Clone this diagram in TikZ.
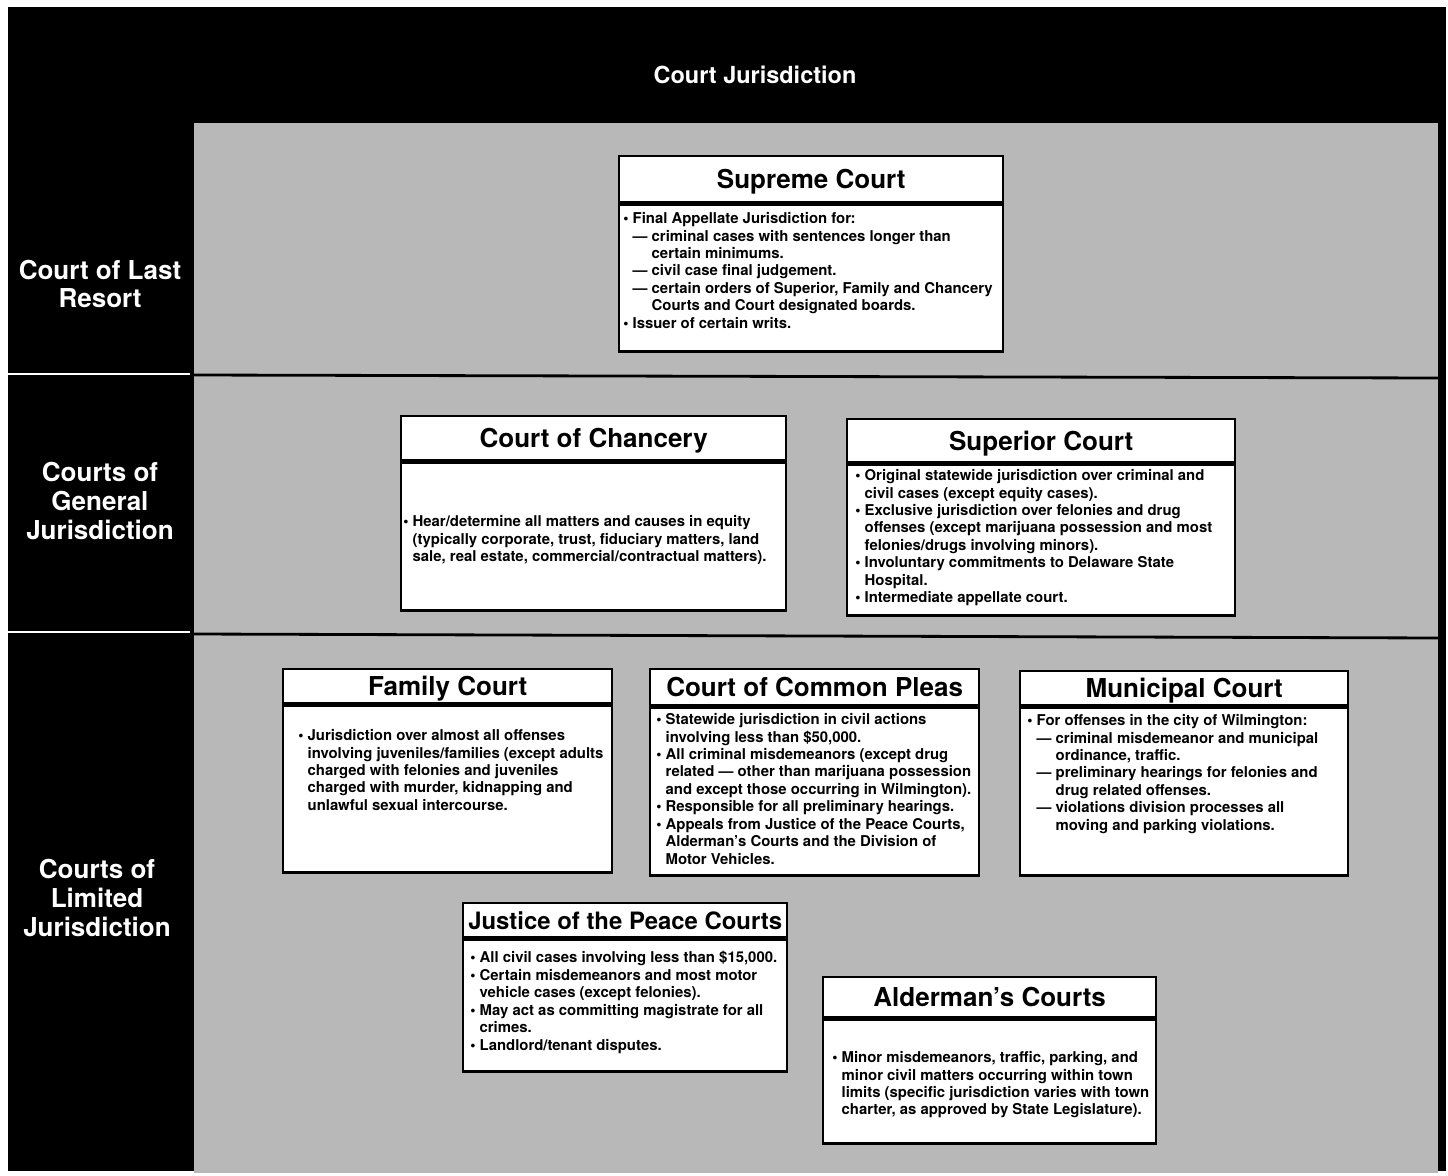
\documentclass[tikz,border=0pt]{standalone}
\usepackage{fontspec}
\setmainfont{TeX Gyre Heros}
\usetikzlibrary{calc}
\newcommand{\bul}{\textbullet\ }
\newcommand{\ind}{\phantom{\textbullet\ }}
\newcommand{\dsh}{---\ }
\newcommand{\dind}{\phantom{---\ }}
\definecolor{stipple}{gray}{0.72}
\tikzset{
  lbl/.style={text=white,font=\bfseries\fontsize{18.5}{20.5}\selectfont,align=center},
  hd/.style={draw,fill=white,line width=1.6pt,font=\bfseries\fontsize{18.5}{20}\selectfont,inner sep=0pt,text depth=0pt,anchor=north west},
  bd/.style={draw,fill=white,line width=1.6pt,inner sep=0pt,anchor=north},
  txt/.style={font=\bfseries\fontsize{10.6}{12.4}\selectfont,align=left,inner sep=0pt,anchor=north west}
}

\begin{document}
\begin{tikzpicture}[x=0.025cm,y=-0.025cm]
  \useasboundingbox (0,0) rectangle (1448,1176);
  \fill[black] (8,7) rectangle (1446,1171);
  \fill[stipple] (194,123) rectangle (1438,1173);
  \draw[line width=2pt] (194,375) -- (1438,378);
  \draw[line width=2pt] (194,634) -- (1438,638);
  \draw[white,line width=1.5pt] (8,374) -- (190,374);
  \draw[white,line width=1.5pt] (8,632) -- (190,632);
  \node[text=white,font=\bfseries\fontsize{16.7}{19}\selectfont] (title) at (755,75) {Court Jurisdiction};
  \node[lbl] (last) at (100,284) {Court of Last\\Resort};
  \node[lbl] (general) at (100,501) {Courts of\\General\\Jurisdiction};
  \node[lbl] (limited) at (97,898) {Courts of\\Limited\\Jurisdiction};
  \node[hd,minimum width=9.6cm,minimum height=1.15cm] (SupH) at (618,155) {Supreme Court};
  \node[bd,minimum width=9.6cm,minimum height=3.675cm] (SupB) at (SupH.south) {};
  \node[txt] (SupT) at ($(SupB.north west)+(5,9)$)
  {\bul Final Appellate Jurisdiction for:\\
    \ind\dsh criminal cases with sentences longer than\\
    \ind\dind certain minimums.\\
    \ind\dsh civil case final judgement.\\
    \ind\dsh certain orders of Superior, Family and Chancery\\
    \ind\dind Courts and Court designated boards.\\
    \bul Issuer of certain writs.};
  \node[hd,minimum width=9.625cm,minimum height=1.1cm] (ChanH) at (400,415) {Court of Chancery};
  \node[bd,minimum width=9.625cm,minimum height=3.7cm] (ChanB) at (ChanH.south) {};
  \node[txt] (ChanT) at ($(ChanB.north west)+(3,54)$)
  {\bul Hear/determine all matters and causes in equity\\
    \ind(typically corporate, trust, fiduciary matters, land\\
    \ind sale, real estate, commercial/contractual matters).};
  \node[hd,minimum width=9.7cm,minimum height=1.075cm] (SupeH) at (846,418) {Superior Court};
  \node[bd,minimum width=9.7cm,minimum height=3.775cm] (SupeB) at (SupeH.south) {};
  \node[txt] (SupeT) at ($(SupeB.north west)+(9,6)$)
  {\bul Original statewide jurisdiction over criminal and\\
    \ind civil cases (except equity cases).\\
    \bul Exclusive jurisdiction over felonies and drug\\
    \ind offenses (except marijuana possession and most\\
    \ind felonies/drugs involving minors).\\
    \bul Involuntary commitments to Delaware State\\
    \ind Hospital.\\
    \bul Intermediate appellate court.};
  \node[hd,minimum width=8.225cm,minimum height=0.85cm] (FamH) at (282,668) {Family Court};
  \node[bd,minimum width=8.225cm,minimum height=4.175cm] (FamB) at (FamH.south) {};
  \node[txt] (FamT) at ($(FamB.north west)+(16,25)$)
  {\bul Jurisdiction over almost all offenses\\
    \ind involving juveniles/families (except adults\\
    \ind charged with felonies and juveniles\\
    \ind charged with murder, kidnapping and\\
    \ind unlawful sexual intercourse.};
  \node[hd,minimum width=8.225cm,minimum height=0.9cm] (ComH) at (649,668) {Court of Common Pleas};
  \node[bd,minimum width=8.225cm,minimum height=4.2cm] (ComB) at (ComH.south) {};
  \node[txt] (ComT) at ($(ComB.north west)+(7,7)$)
  {\bul Statewide jurisdiction in civil actions\\
    \ind involving less than \$50,000.\\
    \bul All criminal misdemeanors (except drug\\
    \ind related --- other than marijuana possession\\
    \ind and except those occurring in Wilmington).\\
    \bul Responsible for all preliminary hearings.\\
    \bul Appeals from Justice of the Peace Courts,\\
    \ind Alderman's Courts and the Division of\\
    \ind Motor Vehicles.};
  \node[hd,minimum width=8.2cm,minimum height=0.85cm] (MunH) at (1019,670) {Municipal Court};
  \node[bd,minimum width=8.2cm,minimum height=4.2cm] (MunB) at (MunH.south) {};
  \node[txt] (MunT) at ($(MunB.north west)+(8,8)$)
  {\bul For offenses in the city of Wilmington:\\
    \ind\dsh criminal misdemeanor and municipal\\
    \ind\dind ordinance, traffic.\\
    \ind\dsh preliminary hearings for felonies and\\
    \ind\dind drug related offenses.\\
    \ind\dsh violations division processes all\\
    \ind\dind moving and parking violations.};
  \node[hd,minimum width=8.1cm,minimum height=0.85cm,font=\bfseries\fontsize{17}{19}\selectfont] (JusH) at (462,902) {Justice of the Peace Courts};
  \node[bd,minimum width=8.1cm,minimum height=3.3cm] (JusB) at (JusH.south) {};
  \node[txt] (JusT) at ($(JusB.north west)+(8,13)$)
  {\bul All civil cases involving less than \$15,000.\\
    \bul Certain misdemeanors and most motor\\
    \ind vehicle cases (except felonies).\\
    \bul May act as committing magistrate for all\\
    \ind crimes.\\
    \bul Landlord/tenant disputes.};
  \node[hd,minimum width=8.325cm,minimum height=1cm] (AldH) at (822,976) {Alderman's Courts};
  \node[bd,minimum width=8.325cm,minimum height=3.1cm] (AldB) at (AldH.south) {};
  \node[txt] (AldT) at ($(AldB.north west)+(10,33)$)
  {\bul Minor misdemeanors, traffic, parking, and\\
    \ind minor civil matters occurring within town\\
    \ind limits (specific jurisdiction varies with town\\
    \ind charter, as approved by State Legislature).};
\end{tikzpicture}
\end{document}
